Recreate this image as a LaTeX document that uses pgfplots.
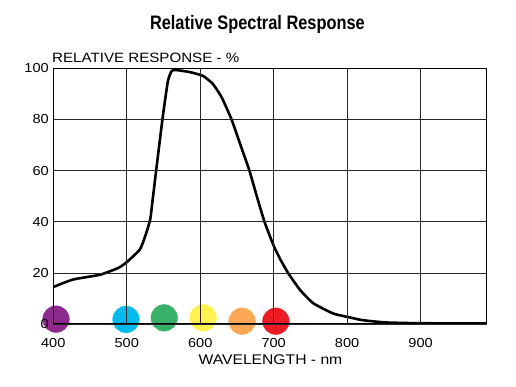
\documentclass[border=0pt]{standalone}
\usepackage{fontspec}
\setmainfont{Liberation Sans}
\newfontfamily\titlefont[FakeStretch=0.84]{Liberation Sans}
\newfontfamily\labelfont[FakeStretch=1.12]{Liberation Sans}
\usepackage{pgfplots}
\pgfplotsset{compat=1.18}
\definecolor{cpurple}{RGB}{142,42,142}
\definecolor{cblue}{RGB}{0,187,238}
\definecolor{cgreen}{RGB}{56,176,104}
\definecolor{cyellow}{RGB}{255,242,80}
\definecolor{corange}{RGB}{250,168,85}
\definecolor{cred}{RGB}{237,28,36}
\pgfplotsset{dot/.style={only marks, mark=*, mark size=13.3pt, color=#1, mark options={draw=#1, fill=#1}}}
\begin{document}
\begin{tikzpicture}
\useasboundingbox (-53.3pt,-63pt) rectangle (462.7pt,324pt);
\begin{axis}[
  at={(0,0)}, anchor=south west,
  scale only axis, width=433.4pt, height=255.6pt,
  xmin=400, xmax=990, ymin=0, ymax=100,
  xtick={400,500,...,900}, ytick={0,20,...,100},
  axis on top,
  clip mode=individual, clip marker paths=false,
  grid=major, grid style={black!85, line width=0.7pt},
  axis line style={black, line width=1pt},
  tick style={draw=none},
  /pgf/number format/assume math mode=true,
  ticklabel style={font=\labelfont\fontsize{13}{13}\selectfont},
  xticklabel style={yshift=-11pt},
  yticklabel style={xshift=-1pt},
  title={\titlefont\bfseries\fontsize{19.5}{19.5}\selectfont Relative Spectral Response},
  title style={at={(axis description cs:0.471,1)}, anchor=base, yshift=33.3pt, inner sep=0pt},
  xlabel={WAVELENGTH - nm},
  xlabel style={at={(axis description cs:0.501,0)}, anchor=base, yshift=-41pt, inner sep=0pt, font=\labelfont\fontsize{14}{14}\selectfont},
]
\addplot[black, line width=2.6pt, smooth, tension=0.3] coordinates {
(400,14.5) (427,17.4) (464,19.3) (489,22) (500,24.2) (518,29.2) (526,35.1)
(532,41) (535,48) (540,60) (549,81) (556,95) (561,98.9) (566,99.4)
(585,98.6) (603.6,97.1) (617,94) (629,88.8) (642.7,80) (654,70.7) (667,60)
(677,50) (687.5,40) (700,30.6) (709,25.3) (720,19.8) (736,13.3) (754,8.1)
(781,4.1) (800,2.8) (821,1.5) (853,0.6) (899,0.3) (990,0.2)
};
\addplot[dot=cpurple] coordinates {(403.7,1.9)};
\addplot[dot=cblue] coordinates {(499,1.8)};
\addplot[dot=cgreen] coordinates {(551,2.4)};
\addplot[dot=cyellow] coordinates {(604,2.4)};
\addplot[dot=corange] coordinates {(657,1.1)};
\addplot[dot=cred] coordinates {(703,1.1)};
\node[anchor=base west, inner sep=0pt, font=\labelfont\fontsize{13.5}{13.5}\selectfont] at (rel axis cs:0,1) [xshift=-1.3pt, yshift=6.3pt] {RELATIVE RESPONSE - \%};
\end{axis}
\end{tikzpicture}
\end{document}
